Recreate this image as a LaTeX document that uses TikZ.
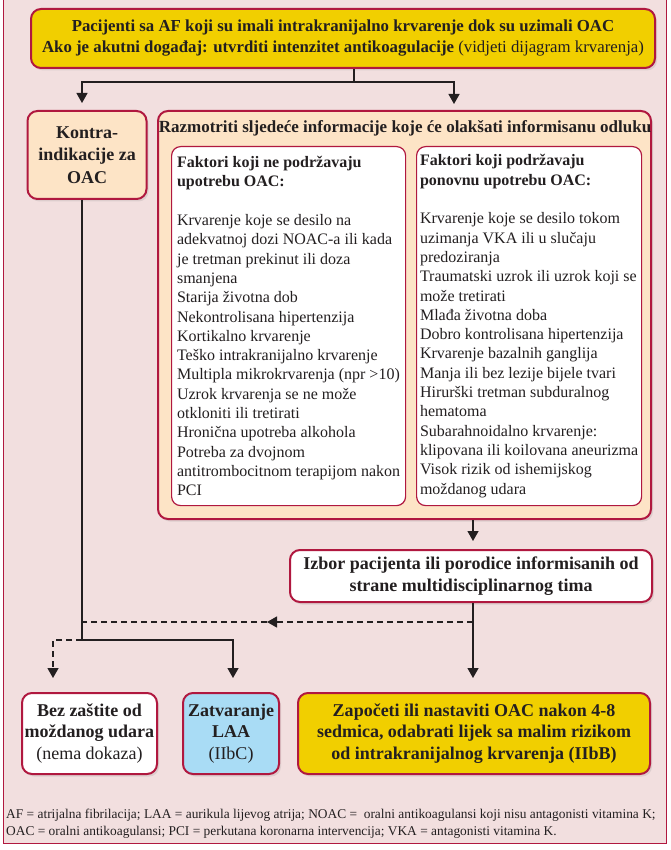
\documentclass[tikz,border=0pt]{standalone}
\usepackage{fontspec}
\setmainfont{Liberation Serif}
\usetikzlibrary{arrows.meta, positioning, shadows, calc}
\definecolor{crimson}{HTML}{B0183F}
\definecolor{bg}     {HTML}{F2DFDF}
\definecolor{gold}   {HTML}{F1CF00}
\definecolor{peach}  {HTML}{FDE4C6}
\definecolor{sky}    {HTML}{A9DCF5}
\definecolor{ink}    {HTML}{231F20}
\tikzset{
  box/.style   = {draw=crimson, line width=2pt, rounded corners=10pt,
                  fill=white, align=center, inner sep=2pt, text=ink,
                  font=\fontsize{18}{21.5}\selectfont\bfseries,
                  drop shadow={opacity=0.18, shadow xshift=2pt, shadow yshift=-2.5pt}},
  gbox/.style  = {box, fill=gold},
  pbox/.style  = {box, fill=peach},
  sbox/.style  = {box, fill=sky},
  list/.style  = {draw=crimson, line width=1.2pt, rounded corners=9pt,
                  fill=white, align=left, inner sep=1.5pt,
                  minimum height=359pt, text=ink,
                  font=\fontsize{16}{19.3}\selectfont},
  head/.style  = {font=\fontsize{17}{20}\selectfont\bfseries, text=ink},
  note/.style  = {font=\fontsize{13.4}{17}\selectfont, text=ink, align=left},
  arr/.style   = {-{Triangle[length=10pt, width=11pt]}, line width=1.3pt, ink},
  line/.style  = {line width=1.3pt, ink},
  darr/.style  = {arr, dash pattern=on 6pt off 4pt},
  dline/.style = {line, dash pattern=on 6pt off 4pt},
}
\begin{document}
\begin{tikzpicture}[x=1pt, y=-1pt]

  \useasboundingbox (0,0) rectangle (670,850);
  \fill[bg] (3,0) rectangle (666,843);
  \draw[crimson, line width=1pt] (3,0) -- (3,843) -- (666,843) -- (666,0);

  \node[gbox, minimum width=624pt, minimum height=59pt,
        font=\fontsize{16.8}{21}\selectfont\bfseries] (top) at (343,38.5)
    {Pacijenti sa AF koji su imali intrakranijalno krvarenje dok su uzimali OAC\\
     Ako je akutni događaj: utvrditi intenzitet antikoagulacije {\mdseries(vidjeti dijagram krvarenja)}};

  \node[pbox, minimum width=119pt, minimum height=88pt,
        font=\fontsize{18}{22.5}\selectfont\bfseries] (kontra) at (87,155)
    {Kontra-\\indikacije za\\OAC};

  \node[pbox, anchor=north west, minimum width=493pt, minimum height=408pt] (razm) at (157,110) {};
  \node[head] (razmt) at (405,128)
    {Razmotriti sljedeće informacije koje će olakšati informisanu odluku};

  \node[list, anchor=north west, minimum width=234pt] (ne) at (171,146)
    {\textbf{Faktori koji ne podržavaju}\\
     \textbf{upotrebu OAC:}\\[19.3pt]
     Krvarenje koje se desilo na\\
     adekvatnoj dozi NOAC-a ili kada\\
     je tretman prekinut ili doza\\
     smanjena\\
     Starija životna dob\\
     Nekontrolisana hipertenzija\\
     Kortikalno krvarenje\\
     Teško intrakranijalno krvarenje\\
     Multipla mikrokrvarenja (npr >10)\\
     Uzrok krvarenja se ne može\\
     otkloniti ili tretirati\\
     Hronična upotreba alkohola\\
     Potreba za dvojnom\\
     antitrombocitnom terapijom nakon\\
     PCI};
  \node[list, anchor=north west, minimum width=225pt] (da) at (416,146)
    {\textbf{Faktori koji podržavaju}\\
     \textbf{ponovnu upotrebu OAC:}\\[19.3pt]
     Krvarenje koje se desilo tokom\\
     uzimanja VKA ili u slučaju\\
     predoziranja\\
     Traumatski uzrok ili uzrok koji se\\
     može tretirati\\
     Mlađa životna doba\\
     Dobro kontrolisana hipertenzija\\
     Krvarenje bazalnih ganglija\\
     Manja ili bez lezije bijele tvari\\
     Hirurški tretman subduralnog\\
     hematoma\\
     Subarahnoidalno krvarenje:\\
     klipovana ili koilovana aneurizma\\
     Visok rizik od ishemijskog\\
     moždanog udara};

  \node[box, minimum width=362pt, minimum height=52pt,
        font=\fontsize{18}{22}\selectfont\bfseries] (izbor) at (471,576)
    {Izbor pacijenta ili porodice informisanih od\\strane multidisciplinarnog tima};

  \node[box, minimum width=135pt, minimum height=81pt] (bez) at (89.5,733.5)
    {Bez zaštite od\\moždanog udara\\{\mdseries(nema dokaza)}};
  \node[sbox, minimum width=96pt, minimum height=81pt] (laa) at (231,733.5)
    {Zatvaranje\\LAA\\{\mdseries(IIbC)}};
  \node[gbox, minimum width=352pt, minimum height=81pt] (zap) at (474,733.5)
    {Započeti ili nastaviti OAC nakon 4-8\\sedmica, odabrati lijek sa malim rizikom\\od intrakranijalnog krvarenja (IIbB)};

  \node[note, anchor=north west, inner sep=1pt] (legend) at (5,808)
    {AF = atrijalna fibrilacija; LAA = aurikula lijevog atrija; NOAC =\ \ oralni antikoagulansi koji nisu antagonisti vitamina K;\\
     OAC = oralni antikoagulansi; PCI = perkutana koronarna intervencija; VKA = antagonisti vitamina K.};

  % connectors
  \coordinate (tfork) at (354,82);
  \coordinate (kdash) at (82,622);
  \coordinate (kfork) at (82,640);
  \coordinate (idash) at (473,622);
  \coordinate (dmid)  at (267,622);

  \draw[line] (top.south -| tfork) -- (tfork);
  \draw[arr, shorten >=7pt] (tfork) -| (kontra.north -| kfork);
  \draw[arr, shorten >=6pt] (tfork) -| (razm.north -| 454,0);

  \draw[line] (kontra.south -| kfork) -- (kfork);
  \draw[arr, shorten >=14pt] (kfork) -| (laa.north -| 233,0);
  \draw[darr, shorten >=14pt] (kfork) -| (bez.north -| 53,0);

  \draw[arr, shorten >=8pt] (razm.south -| idash) -- (izbor.north -| idash);
  \draw[arr, shorten >=14pt] (izbor.south -| idash) -- (zap.north -| idash);
  \draw[darr] (idash) -- (dmid);
  \draw[dline] (dmid) -- (kdash);

\end{tikzpicture}
\end{document}
